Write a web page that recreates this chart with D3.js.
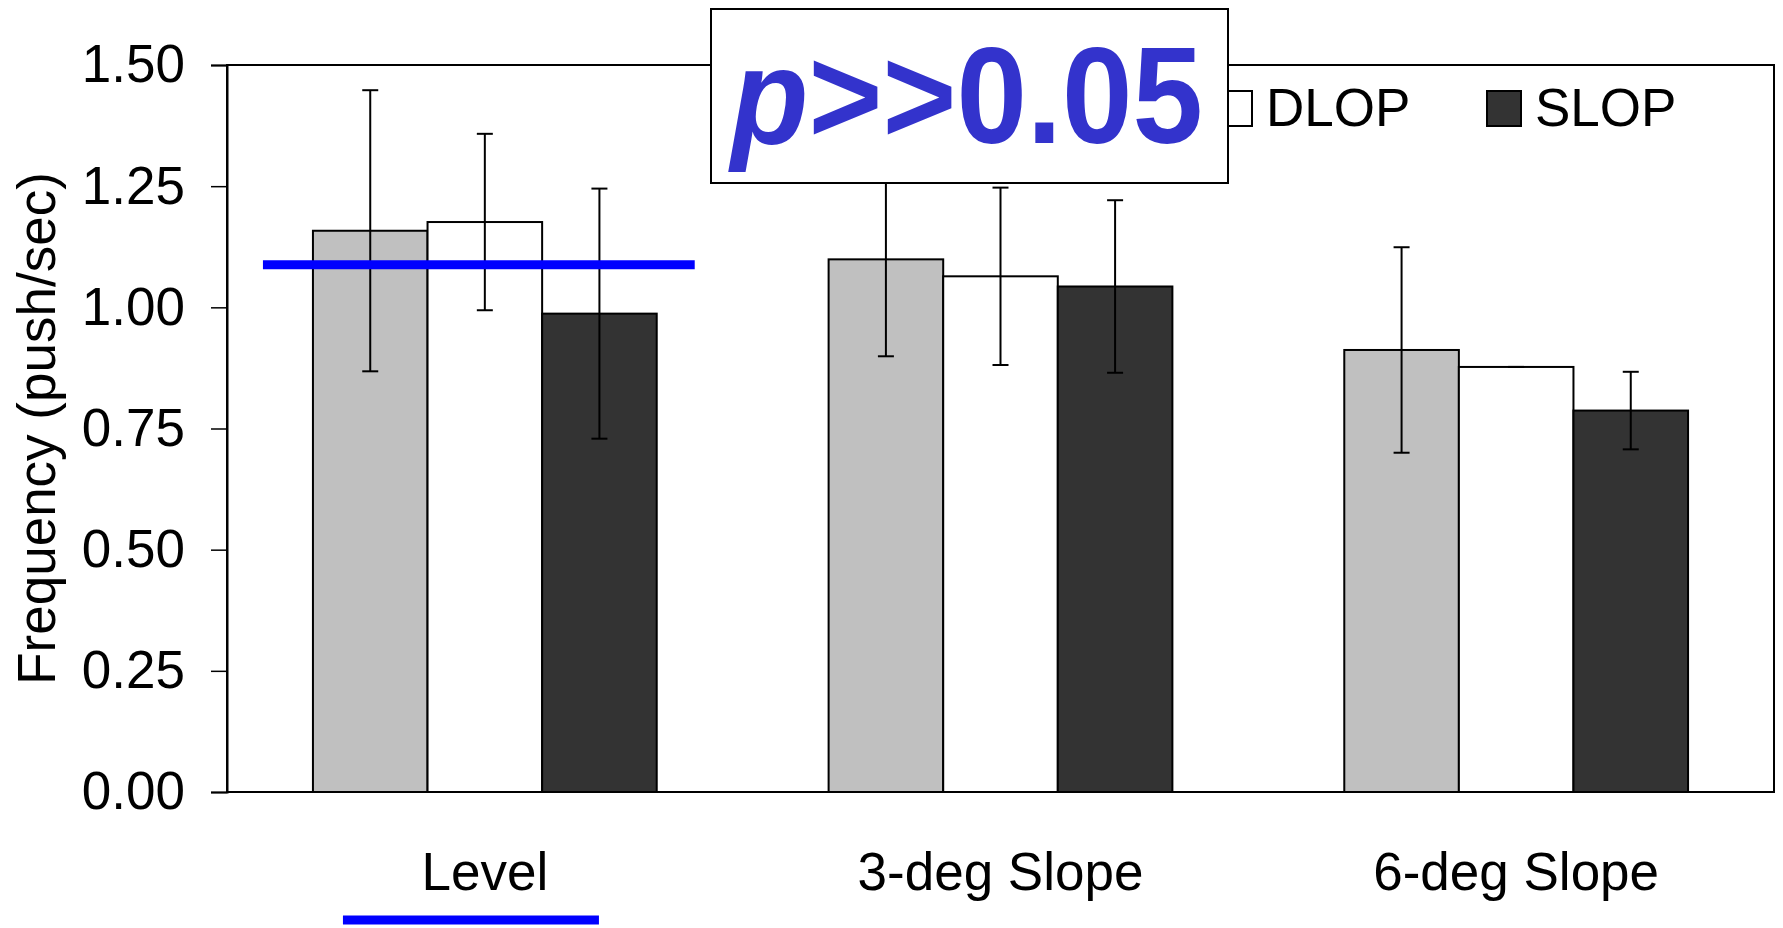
<!DOCTYPE html>
<html>
<head>
<meta charset="utf-8">
<script src="https://cdn.jsdelivr.net/npm/d3@7"></script>
<style>
  html, body { margin: 0; padding: 0; background: #fff; }
  svg { display: block; font-family: "Liberation Sans", Arial, sans-serif; }
</style>
</head>
<body>
<svg id="chart" width="1783" height="928"></svg>
<script>
// categories and series
const categories = ["Level", "3-deg Slope", "6-deg Slope"];
const seriesNames = ["OLOP", "DLOP", "SLOP"];
const seriesColors = ["#c0c0c0", "#ffffff", "#333333"];
const olopValues = [1.158, 1.099, 0.912];
const dlopValues = [1.176, 1.064, 0.877];
const slopValues = [0.987, 1.043, 0.787];
const olopErrors = [0.29, 0.20, 0.212];
const dlopErrors = [0.182, 0.183, 0.0];
const slopErrors = [0.258, 0.178, 0.08];
const yTicks = [0, 0.25, 0.5, 0.75, 1.0, 1.25, 1.5];
const meanLineValue = 1.088;
const pLabel = ">>0.05";

const margin = { top: 65, right: 9, bottom: 136, left: 227 };
const W = 1783, H = 928;
const innerW = W - margin.left - margin.right;
const innerH = H - margin.top - margin.bottom;

const svg = d3.select("#chart");
const g = svg.append("g").attr("transform", `translate(${margin.left},${margin.top})`);

const x0 = d3.scaleBand().domain(categories).range([0, innerW])
    .paddingInner(1 / 3).paddingOuter(1 / 6);
const x1 = d3.scaleBand().domain(seriesNames).range([0, x0.bandwidth()]);
const y = d3.scaleLinear().domain([0, 1.5]).range([innerH, 0]);

const vals = [olopValues, dlopValues, slopValues];
const errs = [olopErrors, dlopErrors, slopErrors];
const rows = [];
categories.forEach((c, i) => {
    seriesNames.forEach((s, j) => {
        rows.push({ cat: c, ser: s, v: vals[j][i], e: errs[j][i], color: seriesColors[j] });
    });
});

// frame
g.append("rect").attr("x", 0).attr("y", 0).attr("width", innerW).attr("height", innerH)
    .attr("fill", "none").attr("stroke", "#000").attr("stroke-width", 2);

// y axis
const yAxis = g.append("g").call(d3.axisLeft(y).tickValues(yTicks).tickFormat(d3.format(".2f")).tickSize(16).tickPadding(26));
yAxis.select(".domain").attr("stroke-width", 2);
yAxis.selectAll(".tick line").attr("stroke-width", 1.5);
yAxis.selectAll(".tick text").attr("font-size", 53).attr("fill", "#000")
    .attr("font-family", "'Liberation Sans', Arial, sans-serif");

// bars
g.selectAll(".bar").data(rows).enter().append("rect")
    .attr("class", "bar")
    .attr("x", d => x0(d.cat) + x1(d.ser))
    .attr("y", d => y(d.v))
    .attr("width", x1.bandwidth())
    .attr("height", d => innerH - y(d.v))
    .attr("fill", d => d.color)
    .attr("stroke", "#000").attr("stroke-width", 2);

// error bars
const eb = g.selectAll(".err").data(rows).enter().append("g").attr("class", "err")
    .attr("transform", d => `translate(${x0(d.cat) + x1(d.ser) + x1.bandwidth() / 2},0)`);
eb.append("line").attr("y1", d => y(d.v + d.e)).attr("y2", d => y(d.v - d.e))
    .attr("stroke", "#000").attr("stroke-width", 2);
eb.append("line").attr("x1", -8).attr("x2", 8).attr("y1", d => y(d.v + d.e)).attr("y2", d => y(d.v + d.e))
    .attr("stroke", "#000").attr("stroke-width", 2);
eb.append("line").attr("x1", -8).attr("x2", 8).attr("y1", d => y(d.v - d.e)).attr("y2", d => y(d.v - d.e))
    .attr("stroke", "#000").attr("stroke-width", 2);

// category labels
g.selectAll(".cat").data(categories).enter().append("text")
    .attr("class", "cat")
    .attr("x", d => x0(d) + x0.bandwidth() / 2)
    .attr("y", innerH + 98)
    .attr("text-anchor", "middle")
    .attr("font-size", 53)
    .text(d => d);

// y title
svg.append("text")
    .attr("transform", `translate(55,${margin.top + innerH / 2}) rotate(-90)`)
    .attr("text-anchor", "middle")
    .attr("font-size", 53)
    .text("Frequency (push/sec)");

// blue mean line over Level group
const lvl = x0("Level");
g.append("line")
    .attr("x1", lvl - 50).attr("x2", lvl + x0.bandwidth() + 38)
    .attr("y1", y(meanLineValue)).attr("y2", y(meanLineValue))
    .attr("stroke", "#0000ff").attr("stroke-width", 9);

// blue underline under Level label
g.append("line")
    .attr("x1", lvl + 30).attr("x2", lvl + 286)
    .attr("y1", innerH + 128).attr("y2", innerH + 128)
    .attr("stroke", "#0000ff").attr("stroke-width", 9);

// legend
const legend = svg.append("g");
const legItems = [
    { name: seriesNames[1], color: seriesColors[1], x: 1218 },
    { name: seriesNames[2], color: seriesColors[2], x: 1487 }
];
legItems.forEach(it => {
    legend.append("rect").attr("x", it.x).attr("y", 91).attr("width", 34).attr("height", 35)
        .attr("fill", it.color).attr("stroke", "#000").attr("stroke-width", 2);
    legend.append("text").attr("x", it.x + 48).attr("y", 126).attr("font-size", 53).text(it.name);
});

// p value box
const pBox = svg.append("g");
pBox.append("rect").attr("x", 711).attr("y", 9).attr("width", 517).attr("height", 174)
    .attr("fill", "#fff").attr("stroke", "#000").attr("stroke-width", 2);
const pt = pBox.append("text").attr("x", 731).attr("y", 143)
    .attr("font-size", 137).attr("font-weight", "bold").attr("fill", "#3333cc")
    .attr("textLength", 472).attr("lengthAdjust", "spacingAndGlyphs");
pt.append("tspan").attr("font-style", "italic").text("p");
pt.append("tspan").text(pLabel);
</script>
</body>
</html>
